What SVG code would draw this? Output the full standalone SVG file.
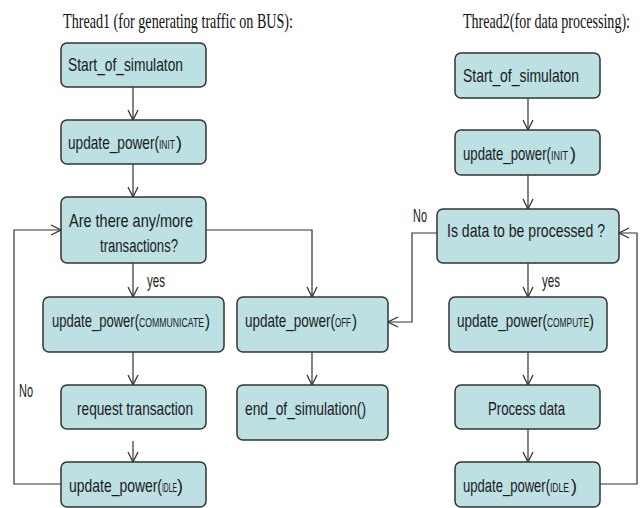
<svg xmlns="http://www.w3.org/2000/svg" width="642" height="508" viewBox="0 0 642 508">
<style>
.box{fill:#bde0e3;stroke:#333;stroke-width:1.5}
.t{font-family:"Liberation Sans",Arial,sans-serif;font-size:19px;fill:#1a1a1a}
.sc{font-family:"Liberation Sans",Arial,sans-serif;font-size:12px;fill:#1a1a1a}
.title{font-family:"Liberation Serif","Times New Roman",serif;font-size:22px;fill:#111}
.c{fill:none;stroke:#333;stroke-width:1.2}
</style>
<defs>
<marker id="a" viewBox="0 0 12 12" refX="11" refY="6" markerWidth="12" markerHeight="12" markerUnits="userSpaceOnUse" orient="auto">
<polyline points="1,1 11,6 1,11" fill="none" stroke="#333" stroke-width="1.3"/>
</marker>
</defs>
<rect width="642" height="508" fill="#fff"/>
<text class="title" x="63" y="28" textLength="230" lengthAdjust="spacingAndGlyphs">Thread1 (for generating traffic on BUS):</text>
<text class="title" x="463" y="28" textLength="167" lengthAdjust="spacingAndGlyphs">Thread2(for data processing):</text>
<g id="connectors">
<path class="c" d="M133,87V120" marker-end="url(#a)"/>
<path class="c" d="M133,164V197" marker-end="url(#a)"/>
<path class="c" d="M133,263V297" marker-end="url(#a)"/>
<path class="c" d="M133,352V385" marker-end="url(#a)"/>
<path class="c" d="M133,441V462" marker-end="url(#a)"/>
<path class="c" d="M61,484H14V230H61" marker-end="url(#a)"/>
<path class="c" d="M206,230H312V297" marker-end="url(#a)"/>
<path class="c" d="M312,352V385" marker-end="url(#a)"/>
<path class="c" d="M528,98V130" marker-end="url(#a)"/>
<path class="c" d="M528,175V209" marker-end="url(#a)"/>
<path class="c" d="M528,263V297" marker-end="url(#a)"/>
<path class="c" d="M528,352V385" marker-end="url(#a)"/>
<path class="c" d="M528,429V462" marker-end="url(#a)"/>
<path class="c" d="M437,233H412V322H388" marker-end="url(#a)"/>
<path class="c" d="M600,484H637V233H619" marker-end="url(#a)"/>
<text class="t" x="147" y="287" textLength="18" lengthAdjust="spacingAndGlyphs">yes</text>
<text class="t" x="19" y="397" textLength="14" lengthAdjust="spacingAndGlyphs">No</text>
<text class="t" x="542" y="287" textLength="18" lengthAdjust="spacingAndGlyphs">yes</text>
<text class="t" x="413" y="222" textLength="14" lengthAdjust="spacingAndGlyphs">No</text>
</g>
<g id="t1_start"><rect class="box" x="61" y="43" width="145" height="44" rx="6"/><text class="t" x="68" y="71" textLength="115" lengthAdjust="spacingAndGlyphs">Start_of_simulaton</text></g>
<g id="t1_init"><rect class="box" x="61" y="120" width="145" height="44" rx="6"/>
<text class="t" x="68" y="149" textLength="91" lengthAdjust="spacingAndGlyphs">update_power(</text><text class="sc" x="159" y="149" textLength="16" lengthAdjust="spacingAndGlyphs">INIT</text><text class="t" x="176" y="149" textLength="6" lengthAdjust="spacingAndGlyphs">)</text></g>
<g id="t1_decision"><rect class="box" x="61" y="197" width="145" height="66" rx="6"/><text class="t" x="69" y="227" textLength="124" lengthAdjust="spacingAndGlyphs">Are  there any/more</text><text class="t" x="100" y="252" textLength="78" lengthAdjust="spacingAndGlyphs">transactions?</text></g>
<g id="t1_comm"><rect class="box" x="43" y="297" width="181" height="55" rx="6"/>
<text class="t" x="52" y="327" textLength="87" lengthAdjust="spacingAndGlyphs">update_power(</text><text class="sc" x="139" y="327" textLength="65" lengthAdjust="spacingAndGlyphs">COMMUNICATE</text><text class="t" x="205" y="327" textLength="5" lengthAdjust="spacingAndGlyphs">)</text></g>
<g id="t1_request"><rect class="box" x="61" y="385" width="145" height="44" rx="6"/><text class="t" x="77" y="415" textLength="116" lengthAdjust="spacingAndGlyphs">request  transaction</text></g>
<g id="t1_idle"><rect class="box" x="61" y="462" width="145" height="45" rx="6"/>
<text class="t" x="69" y="492" textLength="93" lengthAdjust="spacingAndGlyphs">update_power(</text><text class="sc" x="162" y="492" textLength="15" lengthAdjust="spacingAndGlyphs">IDLE</text><text class="t" x="177" y="492" textLength="6" lengthAdjust="spacingAndGlyphs">)</text></g>
<g id="t1_off"><rect class="box" x="237" y="297" width="151" height="55" rx="6"/>
<text class="t" x="245" y="327" textLength="90" lengthAdjust="spacingAndGlyphs">update_power(</text><text class="sc" x="335" y="327" textLength="16" lengthAdjust="spacingAndGlyphs">OFF</text><text class="t" x="352" y="327" textLength="5" lengthAdjust="spacingAndGlyphs">)</text></g>
<g id="t1_end"><rect class="box" x="237" y="385" width="151" height="55" rx="6"/><text class="t" x="245" y="415" textLength="121" lengthAdjust="spacingAndGlyphs">end_of_simulation()</text></g>
<g id="t2_start"><rect class="box" x="455" y="53" width="145" height="45" rx="6"/><text class="t" x="463" y="82" textLength="116" lengthAdjust="spacingAndGlyphs">Start_of_simulaton</text></g>
<g id="t2_init"><rect class="box" x="455" y="130" width="145" height="45" rx="6"/>
<text class="t" x="463" y="160" textLength="88" lengthAdjust="spacingAndGlyphs">update_power(</text><text class="sc" x="551" y="160" textLength="17" lengthAdjust="spacingAndGlyphs">INIT</text><text class="t" x="570" y="160" textLength="6" lengthAdjust="spacingAndGlyphs">)</text></g>
<g id="t2_decision"><rect class="box" x="437" y="209" width="182" height="54" rx="6"/><text class="t" x="447" y="237" textLength="158" lengthAdjust="spacingAndGlyphs">Is data to be processed  ?</text></g>
<g id="t2_compute"><rect class="box" x="449" y="297" width="158" height="55" rx="6"/>
<text class="t" x="457" y="327" textLength="90" lengthAdjust="spacingAndGlyphs">update_power(</text><text class="sc" x="547" y="327" textLength="42" lengthAdjust="spacingAndGlyphs">COMPUTE</text><text class="t" x="589" y="327" textLength="5" lengthAdjust="spacingAndGlyphs">)</text></g>
<g id="t2_process"><rect class="box" x="455" y="385" width="145" height="44" rx="6"/><text class="t" x="488" y="415" textLength="77" lengthAdjust="spacingAndGlyphs">Process  data</text></g>
<g id="t2_idle"><rect class="box" x="455" y="462" width="145" height="45" rx="6"/>
<text class="t" x="463" y="492" textLength="87" lengthAdjust="spacingAndGlyphs">update_power(</text><text class="sc" x="550" y="492" textLength="19" lengthAdjust="spacingAndGlyphs">IDLE</text><text class="t" x="571" y="492" textLength="6" lengthAdjust="spacingAndGlyphs">)</text></g>
</svg>
